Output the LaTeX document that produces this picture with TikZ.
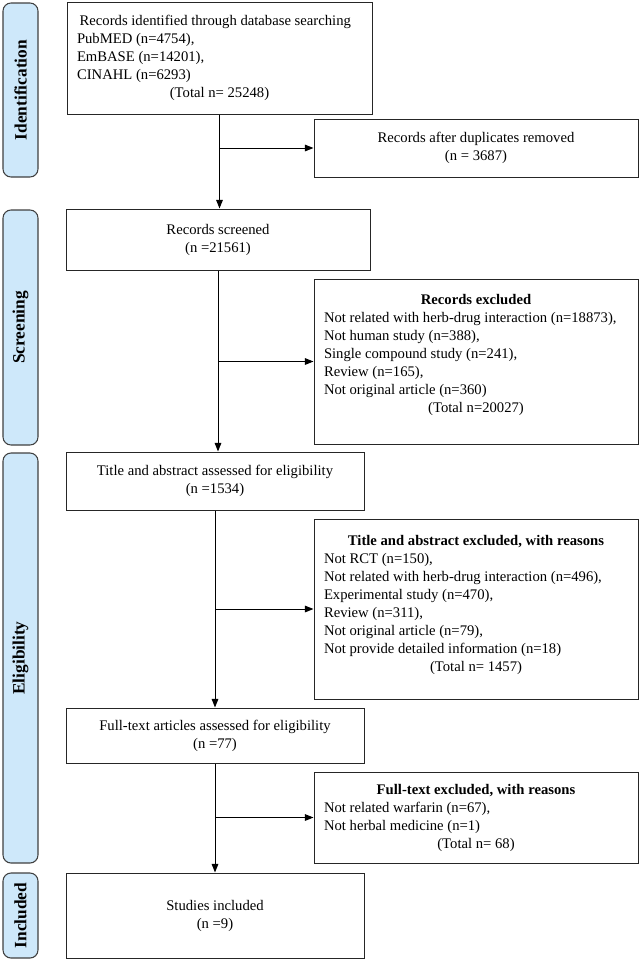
\documentclass[tikz,border=0pt]{standalone}
\usepackage{fontspec}
\setmainfont{Liberation Serif}
\usetikzlibrary{arrows.meta}

\definecolor{phaseblue}{RGB}{206,232,250}
\newcommand{\midline}[2][228pt]{\makebox[#1][c]{#2}}

\begin{document}
\begin{tikzpicture}[x=0.75pt, y=-0.75pt,
    sz/.style 2 args={minimum width=#1*0.75pt, minimum height=#2*0.75pt},
    phase/.style={draw=black!75, fill=phaseblue, rounded corners=6pt, line width=0.8pt,
        inner sep=0pt, rotate=90, font=\fontsize{13}{15}\selectfont\bfseries},
    box/.style={draw=black!85, line width=0.75pt, inner sep=0pt, align=center,
        font=\fontsize{11}{13.5}\selectfont},
    listbox/.style={box, align=left},
    flow/.style={-{Triangle[length=6.5pt,width=5pt]}, line width=0.75pt}]
   \useasboundingbox (0,0) rectangle (641,960);

   % phases on the left
   \node[phase, sz={174}{35}] (idn) at (20.5,90) {Identification};
   \node[phase, sz={235}{35}] (scr) at (20.5,327.5) {Screening};
   \node[phase, sz={410}{35}] (elg) at (20.5,658) {Eligibility};
   \node[phase, sz={85}{35}] (inc) at (20.5,915.5) {Included};

   % main column
   \node[listbox, sz={305}{112}] (srch) at (219.5,58)
      {\hspace*{2pt}Records identified through database searching\\
       PubMED (n=4754),\\
       EmBASE (n=14201),\\
       CINAHL (n=6293)\\
       \midline[213.75pt]{(Total n= 25248)}};
   \node[box, sz={304}{61}] (scrd) at (218,239.5) {Records screened\\(n =21561)};
   \node[box, sz={298}{58}] (tiab) at (215,481) {Title and abstract assessed for eligibility\\(n =1534)};
   \node[box, sz={298}{55}] (ftxt) at (215,735.5) {Full-text articles assessed for eligibility\\(n =77)};
   \node[box, sz={298}{85}] (incl) at (215,915.5) {Studies included\\(n =9)};

   % side boxes
   \node[box, sz={324}{58}] (dup) at (476,148) {Records after duplicates removed\\(n = 3687)};
   \node[listbox, sz={324}{165}, text height=133*0.75pt, text depth=32*0.75pt] (recex) at (476,361.5)
      {\midline{\textbf{Records excluded}}\\
       Not related with herb-drug interaction (n=18873),\\
       Not human study (n=388),\\
       Single compound study (n=241),\\
       Review (n=165),\\
       Not original article (n=360)\\
       \midline{(Total n=20027)}};
   \node[listbox, sz={324}{180}, text height=152*0.75pt, text depth=28*0.75pt] (tiex) at (476,609)
      {\midline{\textbf{Title and abstract excluded, with reasons}}\\
       Not RCT (n=150),\\
       Not related with herb-drug interaction (n=496),\\
       Experimental study (n=470),\\
       Review (n=311),\\
       Not original article (n=79),\\
       Not provide detailed information (n=18)\\
       \midline{(Total n= 1457)}};
   \node[listbox, sz={324}{91}] (ftex) at (476,817.5)
      {\midline{\textbf{Full-text excluded, with reasons}}\\
       Not related warfarin (n=67),\\
       Not herbal medicine (n=1)\\
       \midline{(Total n= 68)}};

   % arrows
   \draw[flow] (srch.south) -- (srch.south |- scrd.north);
   \draw[flow] (srch.south |- dup.west) -- (dup.west);
   \draw[flow] (scrd.south) -- (scrd.south |- tiab.north);
   \draw[flow] (scrd.south |- recex.west) -- (recex.west);
   \draw[flow] (tiab.south) -- (tiab.south |- ftxt.north);
   \draw[flow] (tiab.south |- tiex.west) -- (tiex.west);
   \draw[flow] (ftxt.south) -- (ftxt.south |- incl.north);
   \draw[flow] (ftxt.south |- ftex.west) -- (ftex.west);
\end{tikzpicture}
\end{document}
